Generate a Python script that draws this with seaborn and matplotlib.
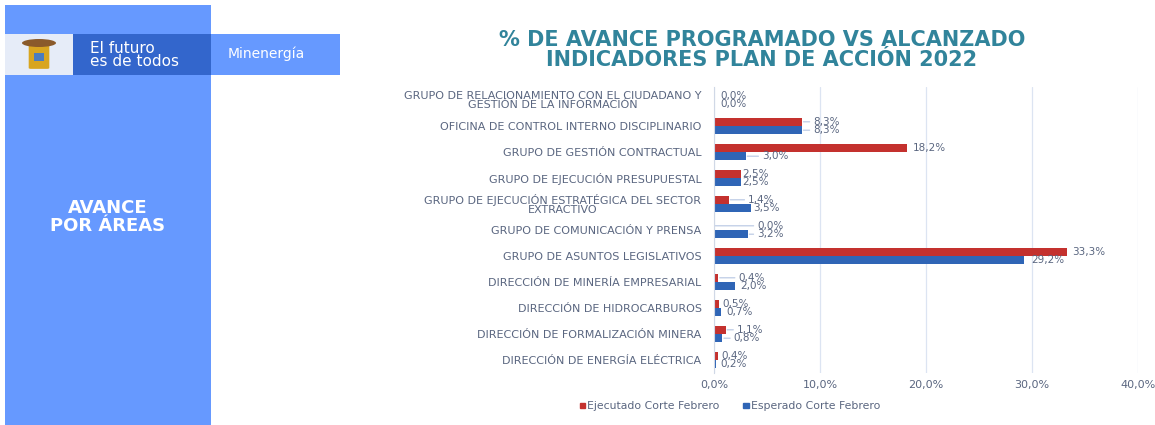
import matplotlib
matplotlib.use("Agg")
import matplotlib.pyplot as plt
import matplotlib.patches as mpatches
from matplotlib.ticker import FuncFormatter, FixedLocator
import seaborn as sns
import pandas as pd

categories = [
    "GRUPO DE RELACIONAMIENTO CON EL CIUDADANO Y\nGESTIÓN DE LA INFORMACIÓN",
    "OFICINA DE CONTROL INTERNO DISCIPLINARIO",
    "GRUPO DE GESTIÓN CONTRACTUAL",
    "GRUPO DE EJECUCIÓN PRESUPUESTAL",
    "GRUPO DE EJECUCIÓN ESTRATÉGICA DEL SECTOR\nEXTRACTIVO",
    "GRUPO DE COMUNICACIÓN Y PRENSA",
    "GRUPO DE ASUNTOS LEGISLATIVOS",
    "DIRECCIÓN DE MINERÍA EMPRESARIAL",
    "DIRECCIÓN DE HIDROCARBUROS",
    "DIRECCIÓN DE FORMALIZACIÓN MINERA",
    "DIRECCIÓN DE ENERGÍA ELÉCTRICA",
]
ejecutado = [0.0, 8.3, 18.2, 2.5, 1.4, 0.0, 33.3, 0.4, 0.5, 1.1, 0.4]
esperado = [0.0, 8.3, 3.0, 2.5, 3.5, 3.2, 29.2, 2.0, 0.7, 0.8, 0.2]
series_names = ["Ejecutado Corte Febrero", "Esperado Corte Febrero"]
x_ticks = [0, 10, 20, 30, 40]

# label placement (pixels right of bar end) -- styling only
off_red = [6, 11, 6, 2, 19, 43, 5, 20, 3, 11, 3]
off_blue = [6, 11, 16, 2, 2, 9, 8, 5, 5, 11, 4]

df = pd.DataFrame({
    "area": categories * 2,
    "valor": ejecutado + esperado,
    "serie": [series_names[0]] * len(categories) + [series_names[1]] * len(categories),
})

W, H = 1155, 425
fig = plt.figure(figsize=(W / 100, H / 100), dpi=100)
sns.set_style("white")
plt.rcParams["font.family"] = ["DejaVu Sans"]

RED = "#C4312E"
BLUE = "#2F65B6"
TXT = "#5A6680"

# ---------- decorative left panel ----------
def fx(px):
    return px / W

def fy(py):
    return 1 - py / H

def rect(x0, y0, x1, y1, color, z=0):
    fig.add_artist(mpatches.Rectangle((fx(x0), fy(y1)), fx(x1) - fx(x0), fy(y0) - fy(y1),
                                      transform=fig.transFigure, color=color, zorder=z, lw=0))

rect(5, 5, 211, 425, "#6699FF", 0)
rect(5, 34, 73, 75, "#E6ECF8", 1)
rect(73, 34, 211, 75, "#3366CC", 1)
rect(211, 34, 340, 75, "#6699FF", 1)
# simple coat-of-arms glyph
fig.add_artist(mpatches.FancyBboxPatch((fx(31), fy(68)), fx(16), fy(46) - fy(68),
                                       boxstyle="round,pad=0.002", transform=fig.transFigure,
                                       color="#D8A520", zorder=2, lw=0))
fig.add_artist(mpatches.Rectangle((fx(34), fy(61)), fx(10), fy(53) - fy(61),
                                  transform=fig.transFigure, color="#4A7CC0", zorder=3, lw=0))
fig.add_artist(mpatches.Ellipse((fx(39), fy(43)), fx(34), fy(38) - fy(46),
                                transform=fig.transFigure, color="#8A5A2B", zorder=2, lw=0))

fig.text(fx(90), fy(55), "El futuro\nes de todos", color="white", fontsize=11,
         family="DejaVu Sans", va="center", ha="left", linespacing=0.9, zorder=5)
fig.text(fx(228), fy(54), "Minenergía", color="white", fontsize=10,
         family="DejaVu Sans", va="center", ha="left", zorder=5)
fig.text(fx(108), fy(217), "AVANCE\nPOR ÁREAS", color="white", fontsize=13,
         family="DejaVu Sans", weight="bold", va="center", ha="center", linespacing=1.0, zorder=5)

# title
fig.text(fx(762), fy(50), "% DE AVANCE PROGRAMADO VS ALCANZADO\nINDICADORES PLAN DE ACCIÓN 2022",
         color="#31849B", fontsize=15, family="DejaVu Sans", weight="bold",
         ha="center", va="center", linespacing=0.95)

# ---------- chart ----------
ax = fig.add_axes([fx(714), fy(373), fx(1138) - fx(714), fy(87) - fy(373)])
sns.barplot(data=df, y="area", x="valor", hue="serie", orient="h",
            palette=[RED, BLUE], width=0.64, ax=ax, legend=False,
            edgecolor="none", saturation=1)

ax.set_xlim(0, 40)
ax.set_ylim(len(categories) - 0.5, -0.5)
ax.xaxis.set_major_locator(FixedLocator(x_ticks))
ax.xaxis.set_major_formatter(FuncFormatter(lambda v, p: f"{v:.1f}%".replace(".", ",")))
ax.grid(axis="x", color="#DCE4F2", lw=0.9)
ax.set_axisbelow(True)
for s in ["top", "right", "bottom"]:
    ax.spines[s].set_visible(False)
ax.spines["left"].set_color("#D0D8E6")
ax.spines["left"].set_linewidth(0.8)
ax.tick_params(axis="x", length=0, labelsize=8, labelcolor=TXT, pad=5)
ax.tick_params(axis="y", length=0, labelsize=8, labelcolor=TXT, pad=9)
for lbl in ax.get_yticklabels():
    lbl.set_multialignment("center")
    lbl.set_linespacing(0.9)
ax.set_xlabel("")
ax.set_ylabel("")

for cont, offs in zip(ax.containers, [off_red, off_blue]):
    for bar, off in zip(cont, offs):
        w = bar.get_width()
        yc = bar.get_y() + bar.get_height() / 2
        txt = f"{w:.1f}%".replace(".", ",")
        arrow = dict(arrowstyle="-", color="#A9BCDD", lw=0.7, shrinkA=0, shrinkB=1) if off > 8 else None
        ax.annotate(txt, xy=(w, yc), xytext=(off * 0.72, 0), textcoords="offset points",
                    ha="left", va="center", fontsize=7.5, color=TXT,
                    arrowprops=arrow, annotation_clip=False)

handles = [mpatches.Patch(color=RED, label=series_names[0]),
           mpatches.Patch(color=BLUE, label=series_names[1])]
fig.legend(handles=handles, loc="center", bbox_to_anchor=(fx(730), fy(406)), ncol=2,
           frameon=False, fontsize=7.8, labelcolor=TXT, handlelength=0.5, handleheight=0.35,
           handletextpad=0.2, columnspacing=2.2)

fig.savefig("out.png", dpi=100, facecolor="white")
